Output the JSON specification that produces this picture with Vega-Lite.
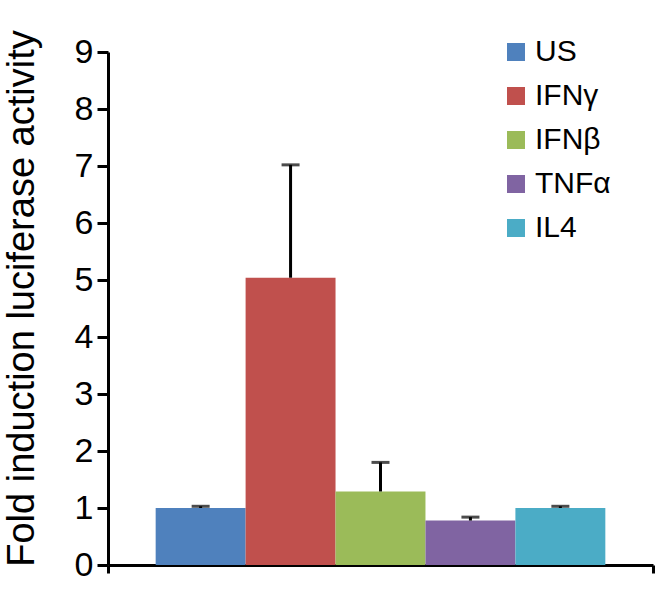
{
  "$schema": "https://vega.github.io/schema/vega-lite/v6.json",
  "width": 545,
  "height": 513,
  "autosize": {"type": "none"},
  "padding": {"left": 108, "top": 52, "right": 11, "bottom": 32},
  "background": "white",
  "config": {
    "font": "Liberation Sans",
    "view": {"stroke": null}
  },
  "data": {
    "values": [
      {"group": "A", "series": "US", "value": 1.0, "upper": 1.03},
      {"group": "A", "series": "IFNγ", "value": 5.04, "upper": 7.02},
      {"group": "A", "series": "IFNβ", "value": 1.29, "upper": 1.8},
      {"group": "A", "series": "TNFα", "value": 0.78, "upper": 0.84},
      {"group": "A", "series": "IL4", "value": 1.0, "upper": 1.03}
    ]
  },
  "encoding": {
    "x": {
      "field": "group",
      "type": "nominal",
      "scale": {"paddingInner": 0, "paddingOuter": 0},
      "axis": {
        "title": null,
        "labels": false,
        "tickBand": "extent",
        "ticks": true,
        "tickSize": 8,
        "tickWidth": 3,
        "tickColor": "black",
        "domainColor": "black",
        "domainWidth": 3
      }
    },
    "xOffset": {
      "field": "series",
      "type": "nominal",
      "sort": ["US", "IFNγ", "IFNβ", "TNFα", "IL4"],
      "scale": {"paddingInner": 0, "paddingOuter": 0.53}
    }
  },
  "layer": [
    {
      "mark": {"type": "bar"},
      "encoding": {
        "y": {
          "field": "value",
          "type": "quantitative",
          "scale": {"domain": [0, 9], "nice": false},
          "axis": {
            "title": "Fold induction luciferase activity",
            "titleFontSize": 38,
            "titleFontWeight": "normal",
            "titleColor": "black",
            "titlePadding": 33,
            "titleY": 246,
            "values": [0, 1, 2, 3, 4, 5, 6, 7, 8, 9],
            "format": "d",
            "labelFontSize": 34,
            "labelColor": "black",
            "labelPadding": 4,
            "tickSize": 11,
            "tickWidth": 3,
            "tickColor": "black",
            "domainColor": "black",
            "domainWidth": 3,
            "grid": false
          }
        },
        "color": {
          "field": "series",
          "type": "nominal",
          "sort": ["US", "IFNγ", "IFNβ", "TNFα", "IL4"],
          "scale": {
            "domain": ["US", "IFNγ", "IFNβ", "TNFα", "IL4"],
            "range": ["#4F81BD", "#C0504D", "#9BBB59", "#8064A2", "#4BACC6"]
          },
          "legend": {
            "title": null,
            "orient": "none",
            "legendX": 393,
            "legendY": -15,
            "padding": 0,
            "symbolType": "square",
            "symbolSize": 324,
            "symbolStrokeWidth": 0,
            "labelFontSize": 30,
            "labelColor": "black",
            "labelOffset": 4,
            "rowPadding": 14,
            "labelLimit": 200
          }
        }
      }
    },
    {
      "mark": {"type": "rule", "strokeWidth": 3, "color": "black"},
      "encoding": {
        "y": {"field": "value", "type": "quantitative"},
        "y2": {"field": "upper"}
      }
    },
    {
      "mark": {"type": "tick", "size": 18, "thickness": 3, "color": "black", "orient": "horizontal"},
      "encoding": {
        "y": {"field": "upper", "type": "quantitative"}
      }
    }
  ]
}
